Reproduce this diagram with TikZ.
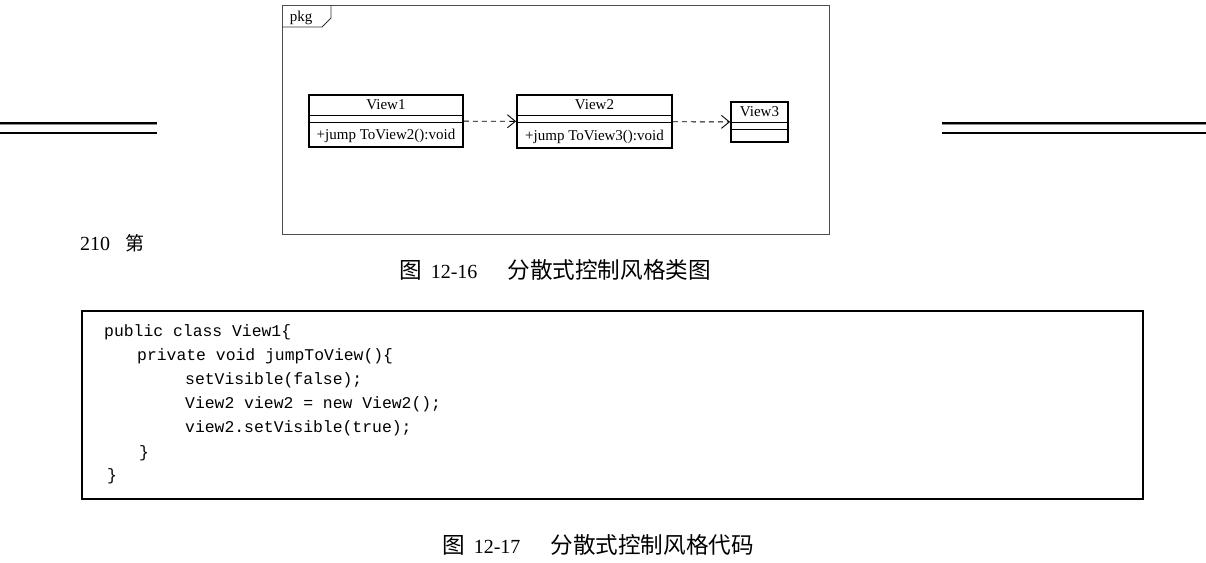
\documentclass[tikz,border=0pt]{standalone}
\usepackage{fontspec}
\setmainfont{Liberation Serif}
\setmonofont{Liberation Mono}
\newfontfamily\cjk{Noto Sans CJK SC}
\usepackage{tikz}
\usetikzlibrary{arrows.meta}
\usetikzlibrary{positioning, calc}

\tikzset{
    classbox/.style={draw, line width=1.8pt, inner sep=0pt},
    umltext/.style={font=\fontsize{15}{17}\selectfont, inner sep=0pt},
    depend/.style={line width=0.9pt, dash pattern=on 5pt off 4pt,
        -{Straight Barb[length=8pt, width=13pt]}},
    codeline/.style={anchor=west, inner sep=0pt,
        font=\ttfamily\fontsize{16.4}{18}\selectfont},
    caption/.style={font=\fontsize{20}{24}\selectfont, inner sep=0pt, anchor=west}
}
\newcommand{\cjkbig}[1]{{\cjk\fontsize{22.6}{24}\selectfont #1}}

\begin{document}
\begin{tikzpicture}[x=1pt, y=-1pt]
\useasboundingbox (0,0) rectangle (1206,562);

% page rules behind the figure
\draw[line width=2pt] (0,122.5) -- (157,122.5);
\draw[black!45, line width=1.4pt] (0,124.5) -- (157,124.5);
\draw[line width=1.2pt] (0,133) -- (157,133);
\draw[line width=2pt] (942,122.5) -- (1206,122.5);
\draw[black!45, line width=1.4pt] (942,124.5) -- (1206,124.5);
\draw[line width=1.2pt] (942,133) -- (1206,133);
\node[caption] (pagenum) at (80,243) {210\hspace{15pt}{\cjk\fontsize{19}{22}\selectfont 第}};

% package frame
\draw[black!70, line width=0.8pt] (282,5) rectangle (829,234);
\draw[black!80, line width=0.8pt] (282,27) -- (322,27) -- (331,18) -- (331,5);
\node[umltext] (pkg) at (301,18) {pkg};

% classes
\foreach \n/\cx/\cy/\w/\h/\op in {
    1/386/121/154/52/{+jump ToView2():void},
    2/594.5/121.5/155/53/{+jump ToView3():void},
    3/759.5/122/57/40/{}}
{
    \node[classbox, minimum width=\w pt, minimum height=\h pt] (v\n) at (\cx,\cy) {};
    \node[umltext] (v\n name) at ($(v\n.north)+(0,11)$) {View\n};
    \draw[line width=0.6pt] ($(v\n.north west)+(0,21)$) -- ($(v\n.north east)+(0,21)$);
    \draw[line width=0.6pt] ($(v\n.north west)+(0,28)$) -- ($(v\n.north east)+(0,28)$);
    \node[umltext] (v\n op) at ($(v\n.south)+(0,-12)$) {\op};
}

\draw[depend] (v1) -- (v2);
\draw[depend] (v2) -- (v3);

\node[caption] (cap1) at (399,270) {\cjkbig{图}\hspace{9pt}12-16\hspace{30pt}\cjkbig{分散式控制风格类图}};

% code listing
\node[draw, line width=1.5pt, minimum width=1061pt, minimum height=188pt] (code) at (612.5,405) {};
\foreach \x/\y/\t in {
    104/332/{public class View1\{},
    137/356/{private void jumpToView()\{},
    185/380/{setVisible(false);},
    185/404/{View2 view2 = new View2();},
    185/428/{view2.setVisible(true);},
    139/453/{\}},
    107/476/{\}}}
    \node[codeline] at (\x,\y) {\t};

\node[caption] (cap2) at (442,545) {\cjkbig{图}\hspace{9pt}12-17\hspace{30pt}\cjkbig{分散式控制风格代码}};

\end{tikzpicture}
\end{document}
